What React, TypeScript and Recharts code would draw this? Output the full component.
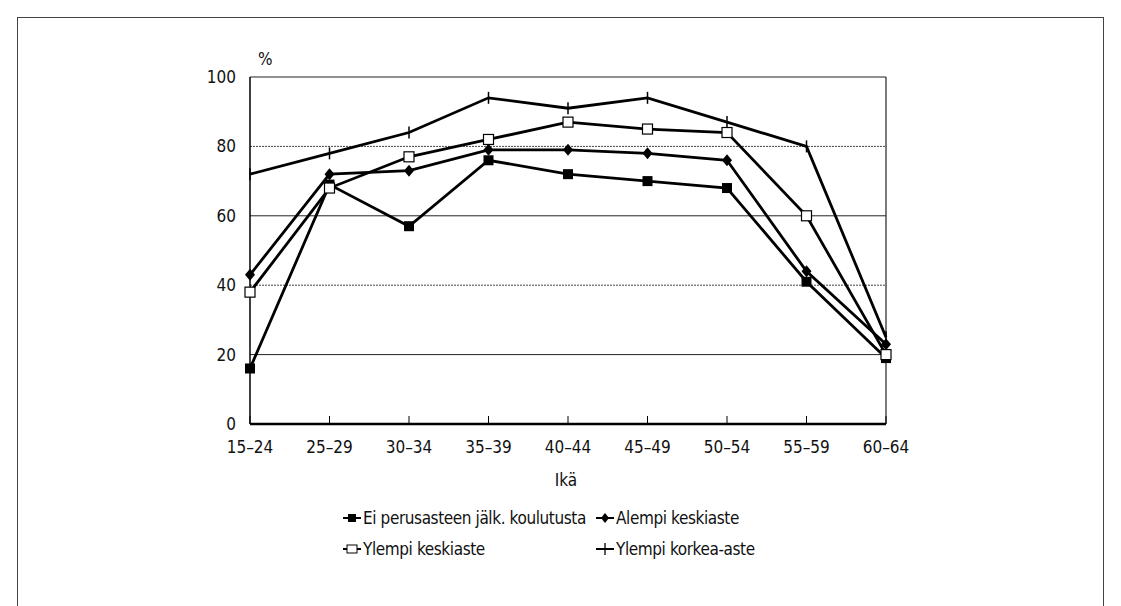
import { LineChart, Line, XAxis, YAxis, ReferenceLine } from "recharts";

const ageGroups = ["15–24", "25–29", "30–34", "35–39", "40–44", "45–49", "50–54", "55–59", "60–64"];
const eiPerusasteen = [16, 69, 57, 76, 72, 70, 68, 41, 19];
const alempiKeskiaste = [43, 72, 73, 79, 79, 78, 76, 44, 23];
const ylempiKeskiaste = [38, 68, 77, 82, 87, 85, 84, 60, 20];
const ylempiKorkea = [72, 78, 84, 94, 91, 94, 87, 80, 25];
const yTicks = [0, 20, 40, 60, 80, 100];

const FONT = '"DejaVu Sans Condensed", "DejaVu Sans", sans-serif';
const txt = { fontFamily: FONT, fontStretch: "condensed" as const, fontSize: 17, color: "#111" };

const data = ageGroups.map((age, i) => ({
  age,
  ei: eiPerusasteen[i],
  alempi: alempiKeskiaste[i],
  ylempi: ylempiKeskiaste[i],
  korkea: ylempiKorkea[i],
}));

type DotProps = { cx?: number; cy?: number; index?: number };

const SquareDot = ({ cx = 0, cy = 0, index }: DotProps) => (
  <rect key={"s" + index} x={cx - 5} y={cy - 5} width={10} height={10} fill="#000" />
);
const DiamondDot = ({ cx = 0, cy = 0, index }: DotProps) => (
  <path key={"d" + index} d={`M${cx},${cy - 6}L${cx + 5},${cy}L${cx},${cy + 6}L${cx - 5},${cy}Z`} fill="#000" />
);
const OpenSquareDot = ({ cx = 0, cy = 0, index }: DotProps) => (
  <rect key={"o" + index} x={cx - 5} y={cy - 5} width={10} height={10} fill="#fff" stroke="#000" strokeWidth={1.2} />
);
const PlusDot = ({ cx = 0, cy = 0, index }: DotProps) => (
  <path key={"p" + index} d={`M${cx},${cy - 6}L${cx},${cy + 6}`} stroke="#000" strokeWidth={1.5} />
);

const XTick = ({ x = 0, y = 0, payload }: any) => (
  <g>
    <line x1={x} y1={y} x2={x} y2={y - 8} stroke="#000" strokeWidth={1} />
    <text x={x} y={y + 29} textAnchor="middle" fontSize={17} fontFamily={FONT} style={{ fontStretch: "condensed" }} fill="#111">
      {payload.value}
    </text>
  </g>
);

const YTick = ({ x = 0, y = 0, payload }: any) => (
  <text x={x} y={y + 6} textAnchor="end" fontSize={17} fontFamily={FONT} style={{ fontStretch: "condensed" }} fill="#111">
    {payload.value}
  </text>
);

const legendItems = [
  { label: "Ei perusasteen jälk. koulutusta", marker: "square", left: 342, top: 508 },
  { label: "Alempi keskiaste", marker: "diamond", left: 595, top: 508 },
  { label: "Ylempi keskiaste", marker: "open", left: 342, top: 539 },
  { label: "Ylempi korkea-aste", marker: "plus", left: 595, top: 539 },
];

function LegendMarker({ kind }: { kind: string }) {
  return (
    <svg width={20} height={20} style={{ display: "block" }}>
      <line x1={1} y1={10} x2={19} y2={10} stroke="#000" strokeWidth={2} />
      {kind === "square" && <rect x={6} y={6} width={8} height={8} fill="#000" />}
      {kind === "diamond" && <path d="M10,5L14,10L10,15L6,10Z" fill="#000" />}
      {kind === "open" && <rect x={5} y={6} width={10} height={8} fill="#fff" stroke="#000" strokeWidth={1} />}
      {kind === "plus" && <line x1={10} y1={4} x2={10} y2={16} stroke="#000" strokeWidth={1.3} />}
    </svg>
  );
}

export default function App() {
  return (
    <div style={{ position: "absolute", left: 0, top: 0, width: 1121, height: 606, background: "#fff", overflow: "hidden" }}>
      <div
        style={{
          position: "absolute",
          left: 17,
          top: 17,
          width: 1085,
          height: 620,
          borderTop: "1px solid #444",
          borderLeft: "1px solid #444",
          borderRight: "1px solid #444",
        }}
      />
      <div style={{ position: "absolute", left: 0, top: 0 }}>
        <LineChart width={1121} height={606} data={data} margin={{ top: 77, right: 235, bottom: 152, left: 200 }}>
          <ReferenceLine y={20} stroke="#222" strokeWidth={1} />
          <ReferenceLine y={40} stroke="#444" strokeWidth={1} strokeDasharray="2 1" />
          <ReferenceLine y={60} stroke="#222" strokeWidth={1} />
          <ReferenceLine y={80} stroke="#444" strokeWidth={1} strokeDasharray="2 1" />
          <ReferenceLine y={100} stroke="#222" strokeWidth={1.2} />
          <ReferenceLine x="60–64" stroke="#222" strokeWidth={1.2} />
          <XAxis
            dataKey="age"
            interval={0}
            tickSize={0}
            tickMargin={0}
            height={30}
            tick={<XTick />}
            axisLine={{ stroke: "#000", strokeWidth: 2.5 }}
          />
          <YAxis
            domain={[0, 100]}
            ticks={yTicks}
            width={50}
            tickLine={false}
            tickMargin={8}
            axisLine={{ stroke: "#000", strokeWidth: 1.5 }}
            tick={<YTick />}
          />
          <Line dataKey="ei" stroke="#000" strokeWidth={2.8} dot={<SquareDot />} isAnimationActive={false} />
          <Line dataKey="alempi" stroke="#000" strokeWidth={2.8} dot={<DiamondDot />} isAnimationActive={false} />
          <Line dataKey="ylempi" stroke="#000" strokeWidth={2.8} dot={<OpenSquareDot />} isAnimationActive={false} />
          <Line dataKey="korkea" stroke="#000" strokeWidth={2.8} dot={<PlusDot />} isAnimationActive={false} />
        </LineChart>
      </div>
      <div style={{ ...txt, position: "absolute", left: 258, top: 49 }}>%</div>
      <div style={{ ...txt, position: "absolute", left: 466, width: 200, top: 470, textAlign: "center" }}>Ikä</div>
      {legendItems.map((item) => (
        <div
          key={item.label}
          style={{ ...txt, position: "absolute", left: item.left, top: item.top, display: "flex", alignItems: "center", whiteSpace: "nowrap", letterSpacing: -0.4 }}
        >
          <LegendMarker kind={item.marker} />
          <span style={{ marginLeft: 1 }}>{item.label}</span>
        </div>
      ))}
    </div>
  );
}
